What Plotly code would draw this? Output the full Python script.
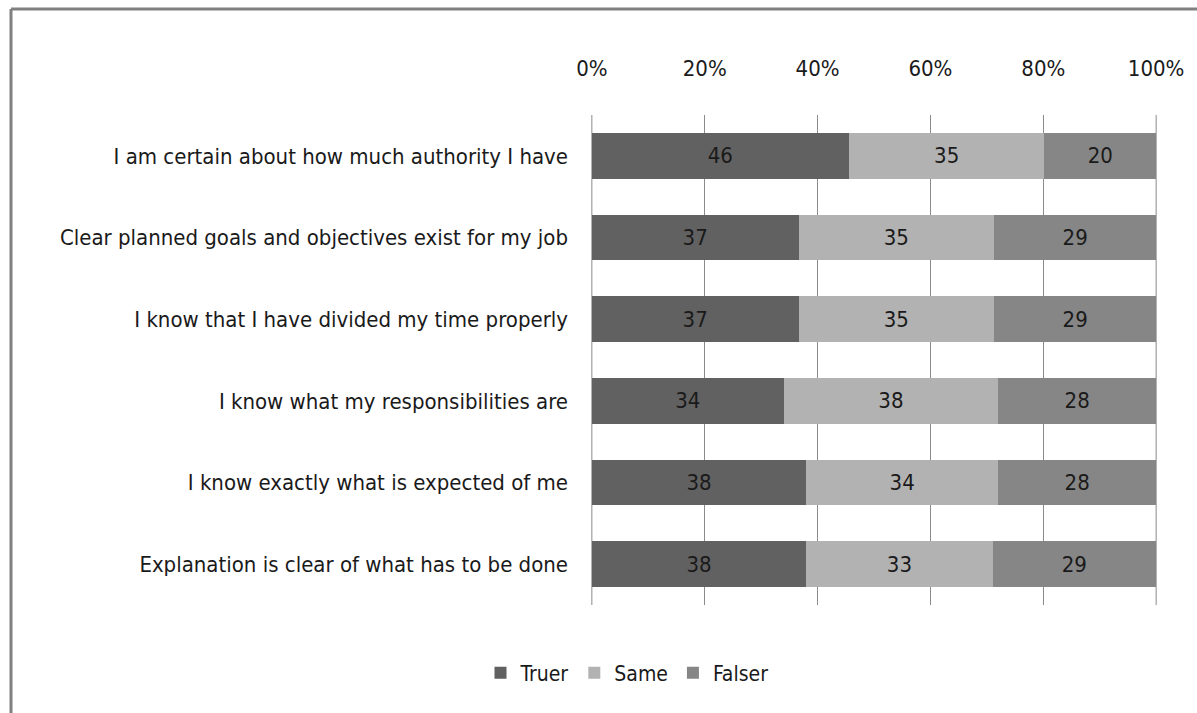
import plotly.graph_objects as go

# Survey statements (top to bottom) and response counts per answer
statements = [
    "I am certain about how much authority I have",
    "Clear planned goals and objectives exist for my job",
    "I know that I have divided my time properly",
    "I know what my responsibilities are",
    "I know exactly what is expected of me",
    "Explanation is clear of what has to be done",
]
truer = [46, 37, 37, 34, 38, 38]
same = [35, 35, 35, 38, 34, 33]
falser = [20, 29, 29, 28, 28, 29]

tick_vals = [0, 20, 40, 60, 80, 100]
tick_text = ["0%", "20%", "40%", "60%", "80%", "100%"]

W, H = 1197, 713
FONT = "DejaVu Sans Condensed, Liberation Sans Narrow, sans-serif"
GRID = "#8a8a8a"

series = [
    ("Truer", truer, "#616161"),
    ("Same", same, "#b2b2b2"),
    ("Falser", falser, "#868686"),
]

fig = go.Figure()
for name, vals, color in series:
    fig.add_trace(go.Bar(
        name=name,
        y=statements,
        x=vals,
        orientation="h",
        marker=dict(color=color, line=dict(width=0)),
        text=[str(v) for v in vals],
        texttemplate="%{text}",
        textposition="inside",
        insidetextanchor="middle",
        textfont=dict(family=FONT, size=22, color="#1a1a1a"),
        hoverinfo="skip",
    ))

# Vertical grid lines at the two ends of the percentage scale
for v in (tick_vals[0], tick_vals[-1]):
    fig.add_shape(type="line", xref="x", yref="y domain",
                  x0=v, x1=v, y0=0, y1=1, layer="below",
                  line=dict(color=GRID, width=1))

# Outer frame lines (left and top edges)
frame = dict(color="#808080", width=3)
fig.add_shape(type="line", xref="paper", yref="paper",
              x0=11 / W, x1=1.0, y0=1 - 9 / H, y1=1 - 9 / H, line=frame)
fig.add_shape(type="line", xref="paper", yref="paper",
              x0=11 / W, x1=11 / W, y0=0, y1=1 - 9 / H, line=frame)

fig.update_layout(
    template="none",
    width=W,
    height=H,
    margin=dict(l=0, r=0, t=0, b=0),
    paper_bgcolor="white",
    plot_bgcolor="white",
    barmode="stack",
    barnorm="percent",
    bargap=0.44,
    font=dict(family=FONT, size=22, color="#1a1a1a"),
    showlegend=True,
    legend=dict(
        orientation="h",
        traceorder="normal",
        x=627 / W,
        xanchor="center",
        y=1 - 673 / H,
        yanchor="middle",
        font=dict(family=FONT, size=21, color="#1a1a1a"),
        itemclick=False,
        itemwidth=30,
    ),
    xaxis=dict(
        domain=[591 / W, 1157 / W],
        range=[-0.15, 100.15],
        side="top",
        tickvals=tick_vals,
        ticktext=tick_text,
        showgrid=True,
        gridcolor=GRID,
        gridwidth=1,
        zeroline=False,
        showline=False,
        ticks="",
        ticklabelstandoff=34,
        automargin=False,
        fixedrange=True,
    ),
    yaxis=dict(
        domain=[1 - 605 / H, 1 - 115 / H],
        categoryorder="array",
        categoryarray=statements[::-1],
        showgrid=False,
        zeroline=False,
        showline=False,
        ticks="",
        ticklabelstandoff=22,
        automargin=False,
        fixedrange=True,
    ),
)

fig.write_html("out.html")
